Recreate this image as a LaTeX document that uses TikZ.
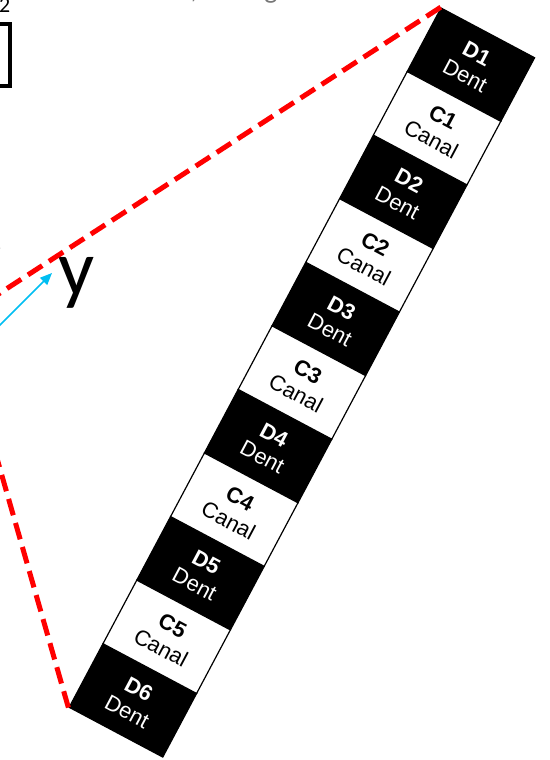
\documentclass[tikz,border=0pt]{standalone}
\usepackage{fontspec}
\setmainfont{Liberation Sans}
\newfontfamily\calfont{Carlito}
\usepackage{xcolor}
\usetikzlibrary{arrows.meta,positioning,calc}
\definecolor{skyarrow}{RGB}{0,190,242}
\definecolor{capgray}{RGB}{118,118,118}

\begin{document}
\begin{tikzpicture}[x=1bp,y=1bp,
 cellbox/.style={draw=black,line width=1.2bp,minimum width=106bp,minimum height=72bp,inner sep=0pt,align=center,font=\fontsize{22}{25}\selectfont},
 dentbox/.style={cellbox,fill=black,text=white},
 canalbox/.style={cellbox,fill=white,text=black},
 cutline/.style={red,line width=5bp,dash pattern=on 17bp off 8bp},
 bigletter/.style={font=\calfont\fontsize{80}{80}\selectfont,inner sep=0pt},
 >={Triangle[length=12bp,width=10bp]}]
 \useasboundingbox (0,0) rectangle (550,760);
 \clip (0,0) rectangle (550,760);
 % tilted strip of teeth and gaps
 \begin{scope}[shift={(441,752)},rotate=-28,transform shape]
  \foreach \i in {1,...,6}
   \node[dentbox] (d\i) at (53,{-72*(2*\i-2)-36}) {\textbf{D\i}\\Dent};
  \foreach \i in {1,...,5}
   \node[canalbox] (c\i) at (53,{-72*(2*\i-1)-36}) {\textbf{C\i}\\Canal};
 \end{scope}
 % cut-off bits at the edges
 \node[font=\calfont\fontsize{28}{28}\selectfont,text=capgray,inner sep=0pt,anchor=base] (comma) at (194,761) {,};
 \node[font=\calfont\fontsize{28}{28}\selectfont,text=capgray,inner sep=0pt,anchor=base] (gee) at (271,761) {g};
 \node[font=\calfont\fontsize{22}{22}\selectfont,inner sep=0pt,anchor=base west] (sub) at (-1,747) {2};
 \draw[line width=3.5bp] (-20,736) rectangle (10,674);
 \node[bigletter,anchor=base east] (tl) at (2,508) {t};
 \node[bigletter,anchor=base] (yl) at (77,464) {y};
 % projection lines
 \coordinate (lt) at (-20,454);
 \coordinate (lb) at (-10,326);
 \draw[cutline] (d1.north west) -- (lt);
 \draw[cutline] (d6.south west) -- (lb);
 \coordinate (ya) at (-10,425);
 \coordinate (yt) at (52,487);
 \draw[->,skyarrow,line width=1.5bp] (ya) -- (yt);
\end{tikzpicture}
\end{document}
